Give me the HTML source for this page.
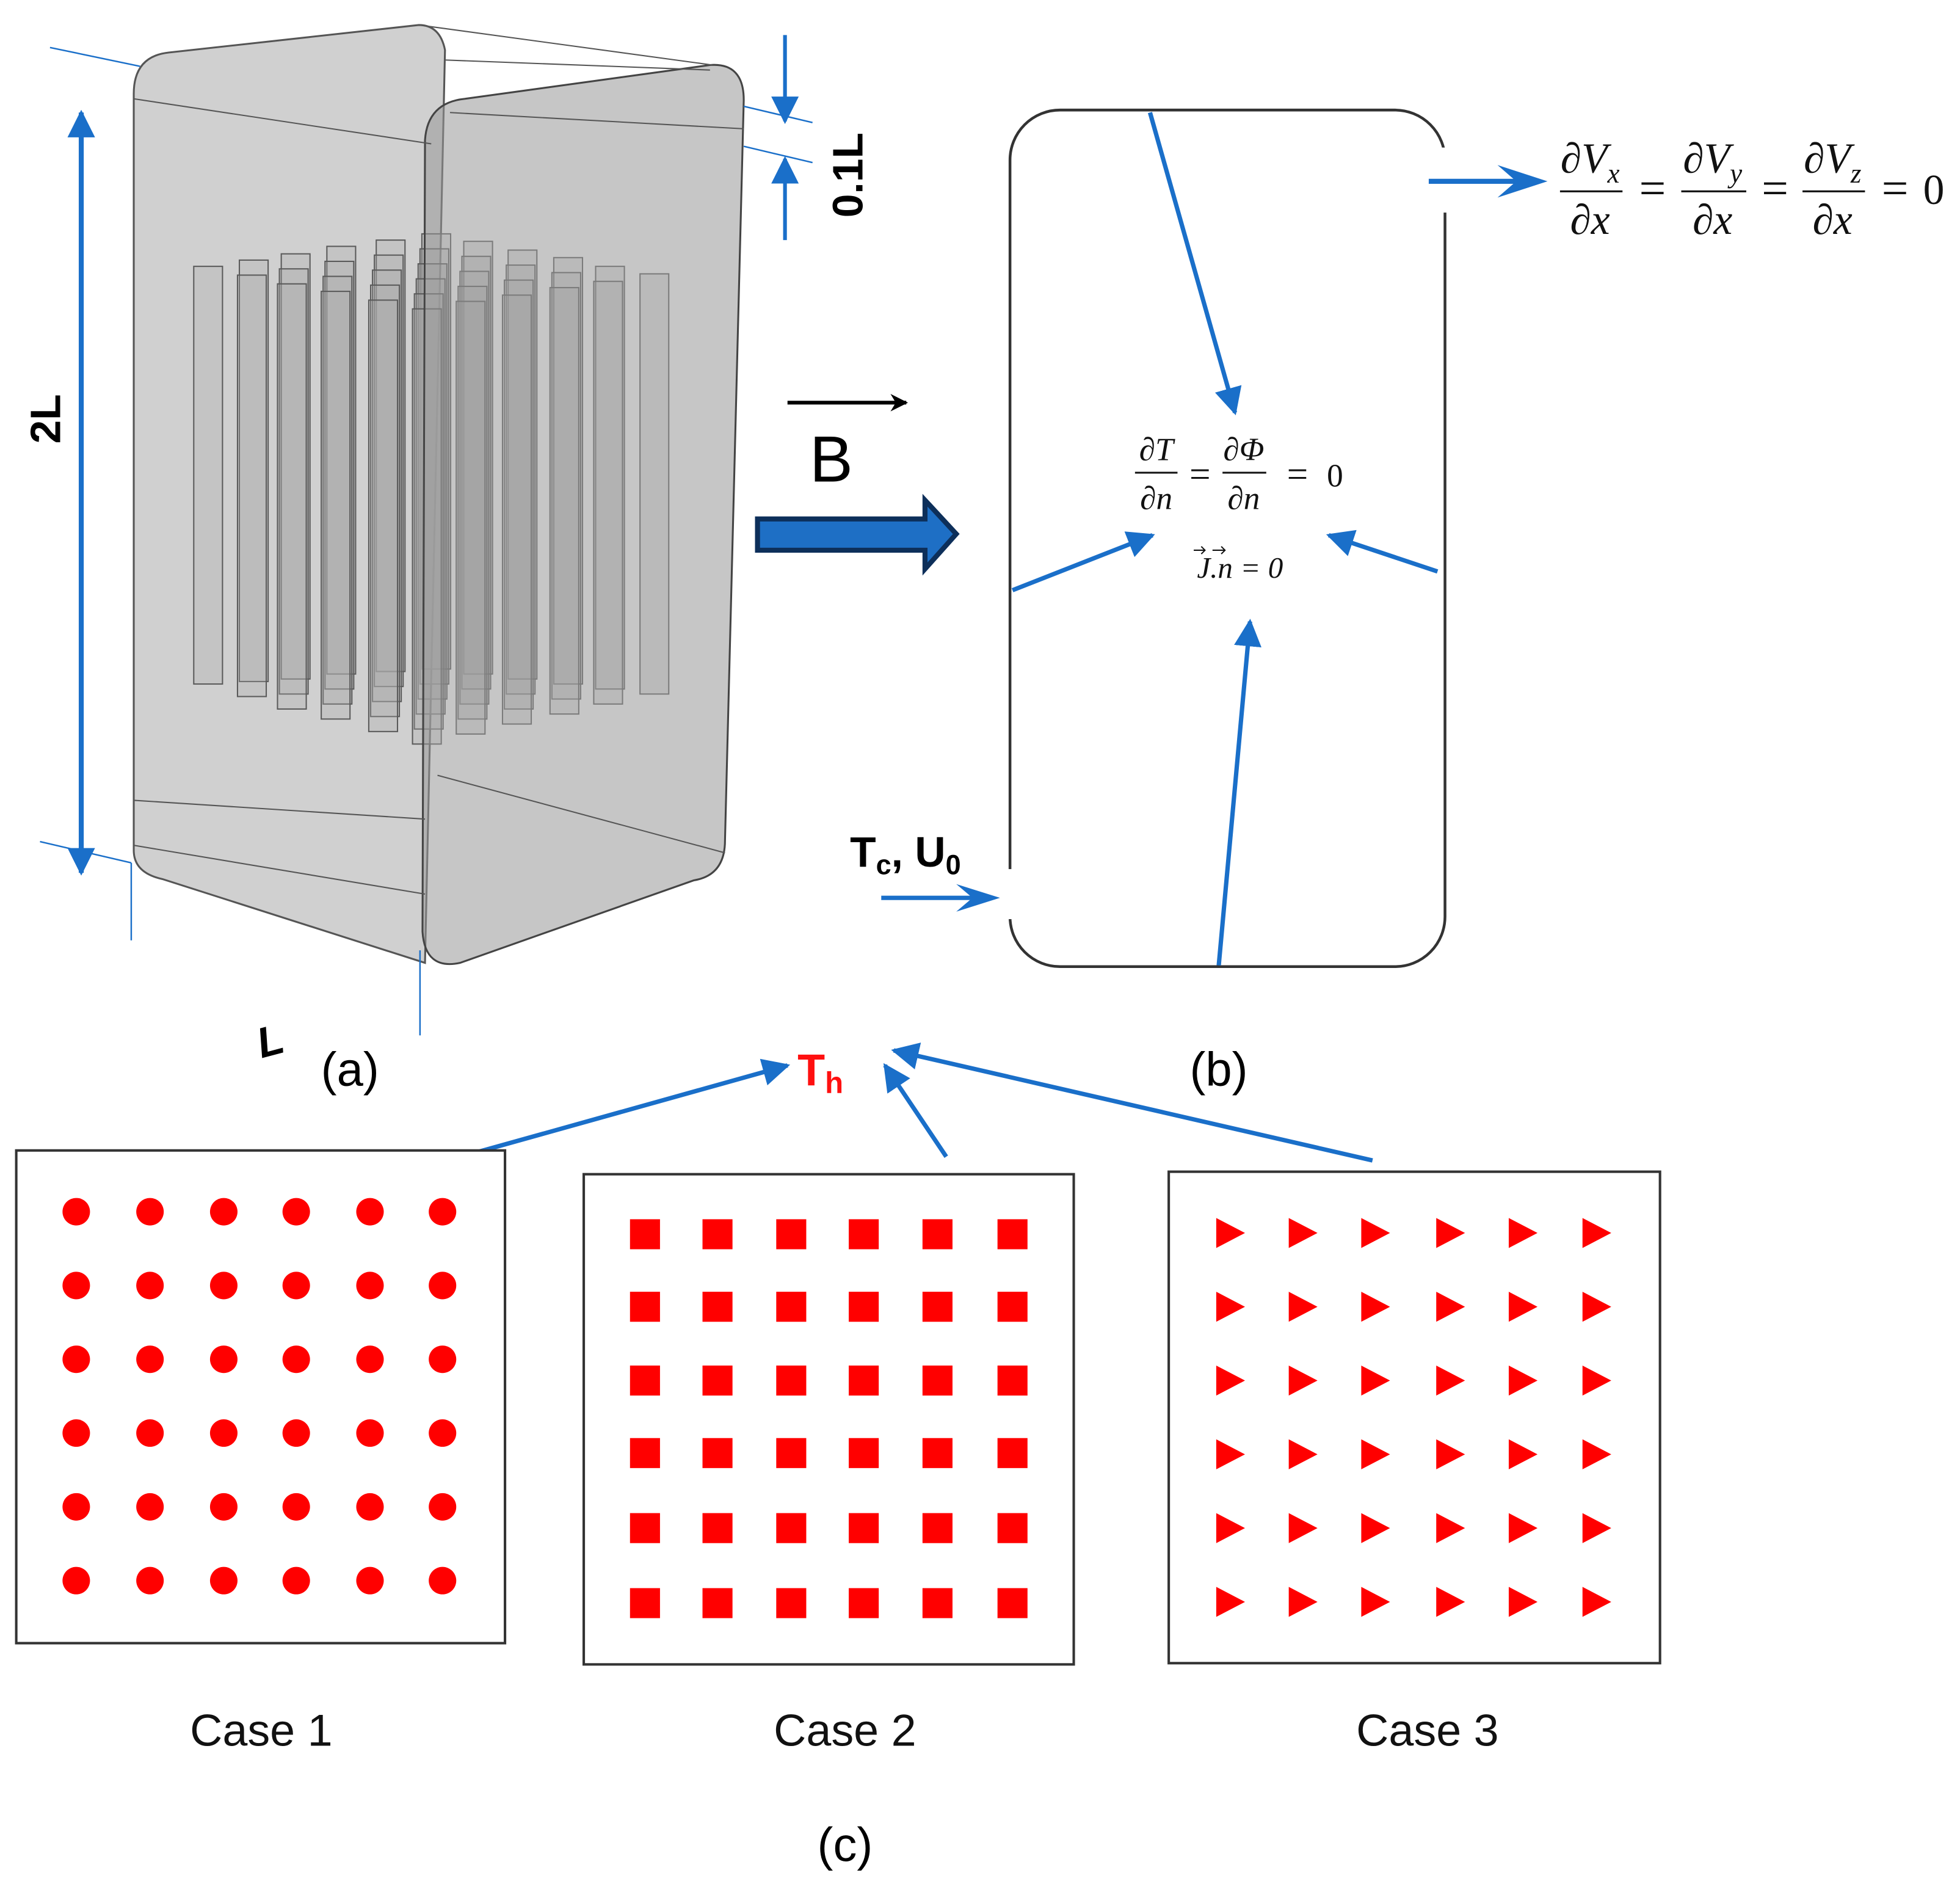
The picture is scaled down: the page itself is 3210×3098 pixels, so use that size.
<!DOCTYPE html>
<html><head><meta charset="utf-8"><style>html,body{margin:0;padding:0;background:#fff}svg{display:block}</style></head>
<body>
<svg width="3210" height="3098" viewBox="0 0 1568 1513" preserveAspectRatio="none" xmlns="http://www.w3.org/2000/svg" font-family="Liberation Sans, sans-serif">
<defs>
<marker id="ab" viewBox="0 0 10 10" refX="9" refY="5" markerWidth="22" markerHeight="22" orient="auto-start-reverse" markerUnits="userSpaceOnUse"><path d="M0,0 L10,5 L0,10 Z" fill="#1a6fc9"/></marker>
<marker id="ak" viewBox="0 0 10 10" refX="9" refY="5" markerWidth="24" markerHeight="14" orient="auto" markerUnits="userSpaceOnUse"><path d="M0,0 L10,5 L0,10 L3,5 Z" fill="#000"/></marker>
</defs>
<rect width="1568" height="1513" fill="#fff"/>

<!-- box (a) -->
<path d="M107,75 Q107,45 135,42 L335,20 Q352,20 356,40 L355,85 L340,770 L130,703 Q107,698 107,680 Z" fill="#d0d0d0" stroke="#555" stroke-width="1.5"/>
<g stroke="#5a5a5a" stroke-width="1" fill="#a8a8a8" fill-opacity="0.3">
<rect x="155" y="213" width="23" height="334"/>
<rect x="191.5" y="208" width="23" height="337"/><rect x="190" y="220" width="23" height="337"/>
<rect x="225" y="203" width="23" height="340"/><rect x="223.5" y="215" width="23" height="340"/><rect x="222" y="227" width="23" height="340"/>
<rect x="261.5" y="197" width="23" height="342"/><rect x="260" y="209" width="23" height="342"/><rect x="258.5" y="221" width="23" height="342"/><rect x="257" y="233" width="23" height="342"/>
<rect x="301" y="192" width="23" height="345"/><rect x="299.5" y="204" width="23" height="345"/><rect x="298" y="216" width="23" height="345"/><rect x="296.5" y="228" width="23" height="345"/><rect x="295" y="240" width="23" height="345"/>
<rect x="337.5" y="187" width="23" height="348"/><rect x="336" y="199" width="23" height="348"/><rect x="334.5" y="211" width="23" height="348"/><rect x="333" y="223" width="23" height="348"/><rect x="331.5" y="235" width="23" height="348"/><rect x="330" y="247" width="23" height="348"/>
<rect x="371" y="193" width="23" height="346"/><rect x="369.5" y="205" width="23" height="346"/><rect x="368" y="217" width="23" height="346"/><rect x="366.5" y="229" width="23" height="346"/><rect x="365" y="241" width="23" height="346"/>
<rect x="406.5" y="200" width="23" height="343"/><rect x="405" y="212" width="23" height="343"/><rect x="403.5" y="224" width="23" height="343"/><rect x="402" y="236" width="23" height="343"/>
<rect x="443" y="206" width="23" height="341"/><rect x="441.5" y="218" width="23" height="341"/><rect x="440" y="230" width="23" height="341"/>
<rect x="476.5" y="213" width="23" height="338"/><rect x="475" y="225" width="23" height="338"/>
<rect x="512" y="219" width="23" height="336"/>
</g>
<path d="M340,112 Q342,82 372,79 L568,52 Q595,50 595,80 L580,672 Q580,700 555,704 L368,770 Q340,776 338,745 Z" fill="#989898" fill-opacity="0.55" stroke="#444" stroke-width="1.5"/>
<g stroke="#555" stroke-width="1" fill="none">
<line x1="107" y1="79" x2="345" y2="115"/>
<line x1="335" y1="20" x2="570" y2="52"/>
<line x1="356" y1="48" x2="568" y2="56"/>
<line x1="360" y1="90" x2="595" y2="103"/>
<line x1="107" y1="640" x2="340" y2="655"/>
<line x1="107" y1="676" x2="340" y2="715"/>
<line x1="350" y1="620" x2="580" y2="682"/>
</g>

<!-- dimension lines -->
<g stroke="#1a6fc9" fill="none">
<line x1="40" y1="38" x2="112" y2="53" stroke-width="1.2"/>
<line x1="32" y1="673" x2="105" y2="690" stroke-width="1.2"/>
<line x1="105" y1="690" x2="105" y2="752" stroke-width="1.2"/>
<line x1="336" y1="760" x2="336" y2="828" stroke-width="1.2"/>
<line x1="595" y1="85" x2="650" y2="98" stroke-width="1.2"/>
<line x1="595" y1="117" x2="650" y2="130" stroke-width="1.2"/>
<line x1="65" y1="90" x2="65" y2="698" stroke-width="4" marker-start="url(#ab)" marker-end="url(#ab)"/>
<line x1="628" y1="28" x2="628" y2="97" stroke-width="3" marker-end="url(#ab)"/>
<line x1="628" y1="192" x2="628" y2="127" stroke-width="3" marker-end="url(#ab)"/>
</g>
<text transform="translate(48,335) rotate(-90)" font-size="34" font-weight="bold" text-anchor="middle">2L</text>
<text transform="translate(690,140) rotate(-90)" font-size="34" font-weight="bold" text-anchor="middle">0.1L</text>
<text x="205" y="845" font-size="34" font-weight="bold" font-style="italic" transform="rotate(-15 212 830)">L</text>
<text x="280" y="868" font-size="38" text-anchor="middle">(a)</text>
<text x="975" y="868" font-size="38" text-anchor="middle">(b)</text>
<text x="676" y="1488" font-size="38" text-anchor="middle">(c)</text>

<!-- B arrow -->
<line x1="630" y1="322" x2="725" y2="322" stroke="#000" stroke-width="3" marker-end="url(#ak)"/>
<text x="665" y="385" font-size="52" text-anchor="middle">B</text>
<path d="M606,415 L740,415 L740,400 L765,427 L740,455 L740,440 L606,440 Z" fill="#1e6fc5" stroke="#0d2f5a" stroke-width="4"/>

<!-- box (b) -->
<rect x="808" y="88" width="348" height="685" rx="40" ry="40" fill="none" stroke="#333" stroke-width="2.2"/>
<rect x="1150" y="118" width="12" height="52" fill="#fff"/>
<rect x="802" y="695" width="12" height="40" fill="#fff"/>
<g stroke="#1a6fc9" stroke-width="3.5" fill="none">
<line x1="920" y1="90" x2="988" y2="330" marker-end="url(#ab)"/>
<line x1="810" y1="472" x2="922" y2="428" marker-end="url(#ab)"/>
<line x1="1150" y1="457" x2="1063" y2="428" marker-end="url(#ab)"/>
<line x1="975" y1="772" x2="1000" y2="497" marker-end="url(#ab)"/>
<line x1="1143" y1="145" x2="1225" y2="145" stroke-width="4"/>
<line x1="705" y1="718" x2="790" y2="718"/>
</g>
<path d="M1198,132 L1238,145 L1198,158 L1213,145 Z" fill="#1a6fc9"/>
<path d="M765,707 L800,718 L765,729 L778,718 Z" fill="#1a6fc9"/>

<g font-family="Liberation Serif, DejaVu Serif, serif" font-size="26" fill="#111">
<text x="925" y="368" text-anchor="middle" font-style="italic">∂T</text>
<line x1="908" y1="378" x2="942" y2="378" stroke="#111" stroke-width="1.5"/>
<text x="925" y="407" text-anchor="middle" font-style="italic">∂n</text>
<text x="960" y="389" text-anchor="middle" font-size="30">=</text>
<text x="995" y="368" text-anchor="middle" font-style="italic">∂Φ</text>
<line x1="978" y1="378" x2="1013" y2="378" stroke="#111" stroke-width="1.5"/>
<text x="995" y="407" text-anchor="middle" font-style="italic">∂n</text>
<text x="1038" y="389" text-anchor="middle" font-size="30">=</text>
<text x="1068" y="389" text-anchor="middle">0</text>
<text x="992" y="462" text-anchor="middle" font-style="italic" font-size="24">J.n = 0</text>
<path d="M955,440 L964,440 M961,437 L964,440 L961,443 M970,440 L980,440 M977,437 L980,440 L977,443" stroke="#111" stroke-width="1" fill="none"/>
</g>
<g font-family="Liberation Serif, DejaVu Serif, serif" font-size="34" fill="#111" font-style="italic">
<text x="1272" y="138" text-anchor="middle">∂V<tspan font-size="22" dy="8">x</tspan></text>
<line x1="1248" y1="153" x2="1298" y2="153" stroke="#111" stroke-width="1.5"/>
<text x="1272" y="187" text-anchor="middle">∂x</text>
<text x="1322" y="163" text-anchor="middle" font-style="normal" font-size="38">=</text>
<text x="1370" y="138" text-anchor="middle">∂V<tspan font-size="22" dy="8">y</tspan></text>
<line x1="1345" y1="153" x2="1397" y2="153" stroke="#111" stroke-width="1.5"/>
<text x="1370" y="187" text-anchor="middle">∂x</text>
<text x="1420" y="163" text-anchor="middle" font-style="normal" font-size="38">=</text>
<text x="1466" y="138" text-anchor="middle">∂V<tspan font-size="22" dy="8">z</tspan></text>
<line x1="1442" y1="153" x2="1492" y2="153" stroke="#111" stroke-width="1.5"/>
<text x="1466" y="187" text-anchor="middle">∂x</text>
<text x="1516" y="163" text-anchor="middle" font-style="normal" font-size="38">=</text>
<text x="1547" y="163" text-anchor="middle" font-style="normal">0</text>
</g>

<text x="680" y="693" font-size="34" font-weight="bold">T<tspan font-size="22" dy="6">c</tspan><tspan dy="-6">, U</tspan><tspan font-size="22" dy="6">0</tspan></text>
<text x="638" y="868" font-size="36" font-weight="bold" fill="#ff1010">T<tspan font-size="24" dy="6">h</tspan></text>
<g stroke="#1a6fc9" stroke-width="3.5" fill="none">
<line x1="358" y1="928" x2="630" y2="852" marker-end="url(#ab)"/>
<line x1="757" y1="925" x2="708" y2="852" marker-end="url(#ab)"/>
<line x1="1098" y1="928" x2="715" y2="840" marker-end="url(#ab)"/>
</g>

<g fill="#fff" stroke="#333" stroke-width="2">
<rect x="13" y="920" width="391" height="394"/>
<rect x="467" y="939" width="392" height="392"/>
<rect x="935" y="937" width="393" height="393"/>
</g>
<g id="shapes" fill="#ff0000"></g>
<g font-size="36" text-anchor="middle" fill="#111">
<text x="209" y="1396">Case 1</text>
<text x="676" y="1396">Case 2</text>
<text x="1142" y="1396">Case 3</text>
</g>
</svg>
<script>
var NS="http://www.w3.org/2000/svg";
function el(p,t,a){var e=document.createElementNS(NS,t);for(var k in a)e.setAttribute(k,a[k]);p.appendChild(e);return e;}
var s=document.getElementById('shapes');
var cx=[61,120,179,237,296,354],cy=[969,1028,1087,1146,1205,1264];
var sx=[516,574,633,691,750,810],sy=[987,1045,1104,1162,1222,1282];
var tx=[984,1042,1100,1160,1218,1277],ty=[986,1045,1104,1163,1222,1281];
for(var i=0;i<6;i++)for(var j=0;j<6;j++){
  el(s,'circle',{cx:cx[i],cy:cy[j],r:11});
  el(s,'rect',{x:sx[i]-12,y:sy[j]-12,width:24,height:24});
  el(s,'path',{d:'M'+(tx[i]-11)+','+(ty[j]-12)+' L'+(tx[i]+12)+','+ty[j]+' L'+(tx[i]-11)+','+(ty[j]+12)+' Z'});
}
</script>
</body></html>
